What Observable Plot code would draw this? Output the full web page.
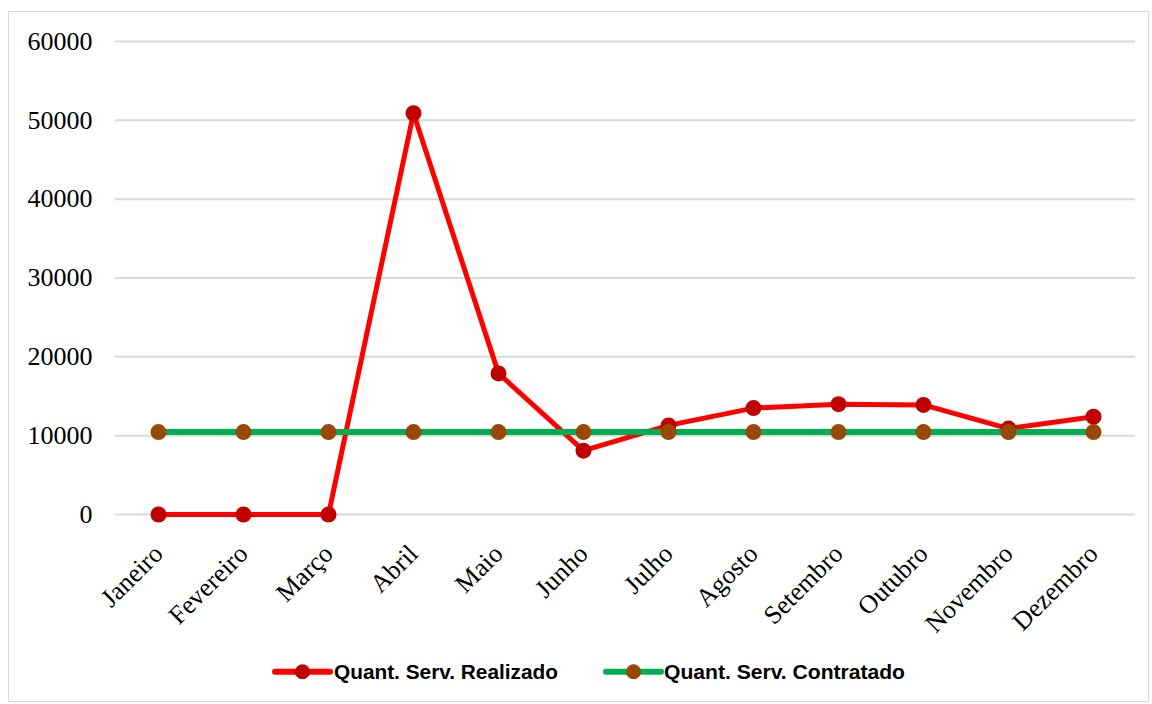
<!DOCTYPE html>
<html><head><meta charset="utf-8">
<script src="https://cdn.jsdelivr.net/npm/d3@7"></script>
<script src="https://cdn.jsdelivr.net/npm/@observablehq/plot@0.6"></script>
<style>
body{margin:0;background:#fff;}
#wrap{position:relative;width:1152px;height:704px;overflow:hidden;}
#frame{position:absolute;left:8px;top:11px;width:1141px;height:691px;border:1px solid #d9d9d9;box-sizing:border-box;}
#chart{position:absolute;left:0;top:0;}
#legend{position:absolute;left:0;top:654px;width:1152px;height:36px;}
</style></head><body>
<div id="wrap"><div id="frame"></div><div id="chart"></div><div id="legend"></div></div>
<script>
const months = ["Janeiro","Fevereiro","Março","Abril","Maio","Junho","Julho","Agosto","Setembro","Outubro","Novembro","Dezembro"];
const realizado = [0,0,0,50900,17900,8100,11300,13500,14000,13900,10900,12400];
const contratado = [10450,10450,10450,10450,10450,10450,10450,10450,10450,10450,10450,10450];
const yTicks = [0,10000,20000,30000,40000,50000,60000];
const seriesNames = ["Quant. Serv. Realizado","Quant. Serv. Contratado"];
const lineColors = ["#ff0000","#00b050"];
const dotColors = ["#c00000","#984807"];

const rows = [];
months.forEach((m,i)=>{
  rows.push({month:m, value:realizado[i], series:seriesNames[0]});
  rows.push({month:m, value:contratado[i], series:seriesNames[1]});
});
const rReal = rows.filter(d=>d.series===seriesNames[0]);
const rCont = rows.filter(d=>d.series===seriesNames[1]);

const chart = Plot.plot({
  width:1152, height:640,
  marginLeft:115, marginRight:17, marginTop:41, marginBottom:126,
  style:{fontFamily:"'Liberation Serif', 'Times New Roman', serif", background:"transparent", color:"#000"},
  x:{type:"point", domain:months, padding:0.5, label:null},
  y:{domain:[0,60000], label:null},
  marks:[
    Plot.gridY(yTicks,{stroke:"#d9d9d9", strokeOpacity:1, strokeWidth:2}),
    Plot.axisY(yTicks,{tickSize:0, tickPadding:23, tickFormat:d3.format("d"), fontSize:26, label:null}),
    Plot.axisX({tickSize:0, tickRotate:-45, tickPadding:35, fontSize:26, label:null}),
    Plot.line(rReal,{x:"month", y:"value", stroke:lineColors[0], strokeWidth:5, strokeLinejoin:"round"}),
    Plot.dot(rReal,{x:"month", y:"value", r:8, fill:dotColors[0], stroke:null}),
    Plot.line(rCont,{x:"month", y:"value", stroke:lineColors[1], strokeWidth:6}),
    Plot.dot(rCont,{x:"month", y:"value", r:8, fill:dotColors[1], stroke:null})
  ]
});
document.getElementById("chart").appendChild(chart);

// legend
const ns = "http://www.w3.org/2000/svg";
const lg = document.createElementNS(ns,"svg");
lg.setAttribute("width",1152); lg.setAttribute("height",36);
const items = [{x0:275, tx:334, tw:224},{x0:606, tx:664, tw:241}];
items.forEach((it,i)=>{
  const l = document.createElementNS(ns,"line");
  l.setAttribute("x1",it.x0); l.setAttribute("x2",it.x0+55);
  l.setAttribute("y1",17.7); l.setAttribute("y2",17.7);
  l.setAttribute("stroke",lineColors[i]); l.setAttribute("stroke-width",6); l.setAttribute("stroke-linecap","round");
  lg.appendChild(l);
  const c = document.createElementNS(ns,"circle");
  c.setAttribute("cx",it.x0+27.5); c.setAttribute("cy",17.7); c.setAttribute("r",7.5);
  c.setAttribute("fill",dotColors[i]);
  lg.appendChild(c);
  const t = document.createElementNS(ns,"text");
  t.setAttribute("x",it.tx); t.setAttribute("y",24.8);
  t.setAttribute("font-family","'Liberation Sans', Arial, sans-serif");
  t.setAttribute("font-weight","bold"); t.setAttribute("font-size",20);
  t.setAttribute("textLength",it.tw); t.setAttribute("lengthAdjust","spacingAndGlyphs");
  t.textContent = seriesNames[i];
  lg.appendChild(t);
});
document.getElementById("legend").appendChild(lg);
</script>
</body></html>
